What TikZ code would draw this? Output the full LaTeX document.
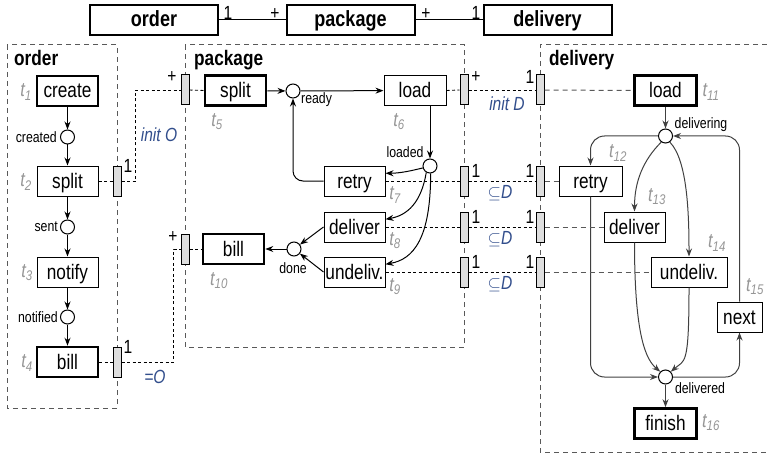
\documentclass[tikz,border=0pt]{standalone}
\usepackage{fontspec}
\setmainfont{Liberation Sans}[FakeStretch=0.82]
\usetikzlibrary{arrows.meta}
\definecolor{tgray}{RGB}{150,150,150}
\definecolor{ablue}{RGB}{50,78,140}
\definecolor{pfill}{RGB}{222,222,222}
\begin{document}
\begin{tikzpicture}[x=1pt,y=-1pt,
  trans/.style={draw, line width=1pt, minimum width=61pt, minimum height=30pt,
    inner sep=0pt, text height=18pt, text depth=4pt, font=\fontsize{21}{21}\selectfont},
  heavy/.style={line width=2.6pt},
  place/.style={circle, draw, line width=1pt, minimum size=14pt, inner sep=0pt, fill=white},
  port/.style={draw, line width=1pt, fill=pfill, minimum width=8pt, minimum height=30pt, inner sep=0pt},
  region/.style={draw=black!65, line width=1pt, dash pattern=on 5pt off 4pt},
  link/.style={line width=0.9pt, dash pattern=on 3pt off 2.5pt},
  glink/.style={draw=black!65, line width=1pt, dash pattern=on 5pt off 4pt},
  flow/.style={line width=1pt, -{Stealth[length=8pt,width=6pt]}},
  dflow/.style={flow, black!75},
  tname/.style={text=tgray, inner sep=0pt, font=\fontsize{20}{20}\selectfont\itshape},
  plabel/.style={inner sep=0pt, font=\fontsize{15}{15}\selectfont},
  num/.style={inner sep=0pt, font=\fontsize{19}{19}\selectfont},
  cond/.style={inner sep=0pt, text=ablue, font=\fontsize{19}{19}\selectfont\itshape},
  regtitle/.style={inner sep=0pt, anchor=base west, font=\fontsize{21}{21}\selectfont\bfseries},
  header/.style={draw, line width=2pt, minimum width=128pt, minimum height=30pt,
    inner sep=0pt, text height=18pt, text depth=4pt, font=\fontsize{22}{22}\selectfont\bfseries}
]
\useasboundingbox (0,0) rectangle (767,457);

% ---- class diagram on top
\node[header] (hO) at (154,20) {order};
\node[header] (hP) at (350.5,20) {package};
\node[header] (hD) at (547.5,20) {delivery};
\draw[line width=1pt] (hO) -- (hP) (hP) -- (hD);
\node[num] (mO) at (228,13) {1};
\node[num] (mP1) at (275,14) {+};
\node[num] (mP2) at (426,14) {+};
\node[num] (mD) at (476,13) {1};

% ---- component boundaries
\draw[region] (7,45) rectangle (117,408);
\draw[region] (185,45) rectangle (464,347);
\draw[region] (767,45) -- (540,45) -- (540,452) -- (767,452);
\node[regtitle] (rO) at (14,66) {order};
\node[regtitle] (rP) at (194,66) {package};
\node[regtitle] (rD) at (549,66) {delivery};

% ---- interface ports on the boundaries
\node[port] (po1) at (117,181) {};
\node[port] (po2) at (117,362) {};
\node[port] (pp1) at (185,90) {};
\node[port] (pp2) at (185,249) {};
\node[port] (pp3) at (464,90) {};
\node[port] (pp4) at (464,181) {};
\node[port] (pp5) at (464,227) {};
\node[port] (pp6) at (464,272) {};
\node[port] (pd1) at (540,90) {};
\node[port] (pd2) at (540,181) {};
\node[port] (pd3) at (540,227) {};
\node[port] (pd4) at (540,272) {};

% ---- order
\node[trans, heavy] (t1) at (67.5,91) {create};
\node[place] (created) at (67.5,137) {};
\node[trans] (t2) at (67.5,181) {split};
\node[place] (sent) at (67.5,227) {};
\node[trans] (t3) at (67.5,272) {notify};
\node[place] (notified) at (67.5,317) {};
\node[trans, heavy] (t4) at (67.5,362) {bill};
\node[plabel, anchor=east] (lcreated) at (57,137) {created};
\node[plabel, anchor=east] (lsent) at (58,227) {sent};
\node[plabel, anchor=east] (lnotified) at (58,317) {notified};
\node[tname] (n1) at (26,92) {t\textsubscript{1}};
\node[tname] (n2) at (26,182) {t\textsubscript{2}};
\node[tname] (n3) at (27,273) {t\textsubscript{3}};
\node[tname] (n4) at (27,363) {t\textsubscript{4}};
\draw[flow] (t1) -- (created);
\draw[flow] (created) -- (t2);
\draw[flow] (t2) -- (sent);
\draw[flow] (sent) -- (t3);
\draw[flow] (t3) -- (notified);
\draw[flow] (notified) -- (t4);

% ---- package
\node[trans, heavy] (t5) at (235.5,90.5) {split};
\node[place] (ready) at (293,91) {};
\node[trans, minimum width=62pt] (t6) at (415,90.5) {load};
\node[place] (loaded) at (430,166) {};
\node[trans] (t7) at (354.5,181) {retry};
\node[trans] (t8) at (354.5,227) {deliver};
\node[trans] (t9) at (354.5,272) {undeliv.};
\node[place] (done) at (294,249) {};
\node[trans, heavy] (t10) at (233.5,249) {bill};
\node[plabel, anchor=west] (lready) at (301,100) {ready};
\node[plabel] (lloaded) at (405,152) {loaded};
\node[plabel] (ldone) at (293,268) {done};
\node[tname] (n5) at (217,122) {t\textsubscript{5}};
\node[tname] (n6) at (399,122) {t\textsubscript{6}};
\node[tname] (n7) at (395,195) {t\textsubscript{7}};
\node[tname] (n8) at (395,241) {t\textsubscript{8}};
\node[tname] (n9) at (395,287) {t\textsubscript{9}};
\node[tname] (n10) at (219,281) {t\textsubscript{10}};
\draw[flow] (t5) -- (ready);
\draw[flow] (ready) -- (t6);
\draw[flow] (t6.south -| loaded.north) -- (loaded.north);
\draw[flow, rounded corners=10pt] (t7.west) -| (ready.south);
\draw[flow] (loaded.195) .. controls +(-12,3) and +(14,0) .. (t7.14);
\draw[flow] (loaded.240) .. controls +(-5,30) and +(22,-4) .. (t8.14);
\draw[flow] (loaded.275) .. controls +(0,65) and +(28,-5) .. (t9.14);
\draw[flow] (t8.west) -- (done);
\draw[flow] (t9.west) -- (done);
\draw[flow] (done) -- (t10);

% ---- delivery
\node[trans, heavy, minimum width=62pt] (t11) at (665.5,90.5) {load};
\node[place] (delivering) at (665.5,136) {};
\node[trans, minimum width=63pt] (t12) at (590.5,181) {retry};
\node[trans] (t13) at (634.5,227) {deliver};
\node[trans, minimum width=76pt] (t14) at (689,272) {undeliv.};
\node[trans, minimum width=45pt] (t15) at (739.5,317) {next};
\node[place] (delivered) at (665.5,377) {};
\node[trans, heavy, minimum width=62pt] (t16) at (665.5,423.5) {finish};
\node[plabel] (ldelivering) at (701,125) {delivering};
\node[plabel] (ldelivered) at (700,388) {delivered};
\node[tname] (n11) at (711,92) {t\textsubscript{11}};
\node[tname] (n12) at (618,153) {t\textsubscript{12}};
\node[tname] (n13) at (657,197) {t\textsubscript{13}};
\node[tname] (n14) at (717,243) {t\textsubscript{14}};
\node[tname] (n15) at (755,287) {t\textsubscript{15}};
\node[tname] (n16) at (711,423) {t\textsubscript{16}};
\draw[dflow] (t11) -- (delivering);
\draw[dflow, rounded corners=14pt] (delivering.west) -| (t12.north);
\draw[dflow] (delivering.235) .. controls +(-18,18) and +(0,-30) .. (t13.north);
\draw[dflow] (delivering.305) .. controls +(18,18) and +(0,-40) .. (t14.north);
\draw[dflow, rounded corners=14pt] (t15.north) |- (delivering.east);
\draw[dflow, rounded corners=14pt] (t12.south) |- (delivered.west);
\draw[dflow] (t13.south) .. controls +(0,95) and +(-14,-12) .. (delivered.135);
\draw[dflow] (t14.south) .. controls +(0,80) and +(14,-12) .. (delivered.45);
\draw[dflow, rounded corners=14pt] (delivered.east) -| (t15.south);
\draw[dflow] (delivered) -- (t16);

% ---- links between components through the ports
\draw[link] (t2.east) -- (po1.west);
\draw[link] (po1.east) -- ++(14,0) |- (pp1.west);
\draw[link] (pp1.east) -- (t5.west);
\draw[link] (t4.east) -- (po2.west);
\draw[link] (po2.east) -- ++(52,0) |- (pp2.west);
\draw[link] (pp2.east) -- (t10.west);
\draw[link] (t6.east) -- (pp3.west);
\draw[link] (t7.east) -- (pp4.west);
\draw[link] (t8.east) -- (pp5.west);
\draw[link] (t9.east) -- (pp6.west);
\draw[link] (pp3.east) -- (pd1.west);
\draw[link] (pp4.east) -- (pd2.west);
\draw[link] (pp5.east) -- (pd3.west);
\draw[link] (pp6.east) -- (pd4.west);
\draw[glink] (pd1.east) -- (t11.west);
\draw[glink] (pd2.east) -- (t12.west);
\draw[glink] (pd3.east) -- (t13.west);
\draw[glink] (pd4.east) -- (t14.west);

\node[num] (k1) at (128,166) {1};
\node[num] (k2) at (128,347) {1};
\node[num] (k3) at (172,77) {+};
\node[num] (k4) at (173,237) {+};
\node[num] (k5) at (476,77) {+};
\node[num] (k6) at (476,171) {1};
\node[num] (k7) at (476,217) {1};
\node[num] (k8) at (476,262) {1};
\node[num] (k9) at (530,77) {1};
\node[num] (k10) at (530,171) {1};
\node[num] (k11) at (530,217) {1};
\node[num] (k12) at (530,262) {1};

\node[cond] (cO1) at (159,135) {init O};
\node[cond] (cO2) at (155,377) {=O};
\node[cond] (cD1) at (507,104) {init D};
\node[cond] (cD2) at (500,193) {$\subseteq$D};
\node[cond] (cD3) at (500,239) {$\subseteq$D};
\node[cond] (cD4) at (500,284) {$\subseteq$D};
\end{tikzpicture}
\end{document}
